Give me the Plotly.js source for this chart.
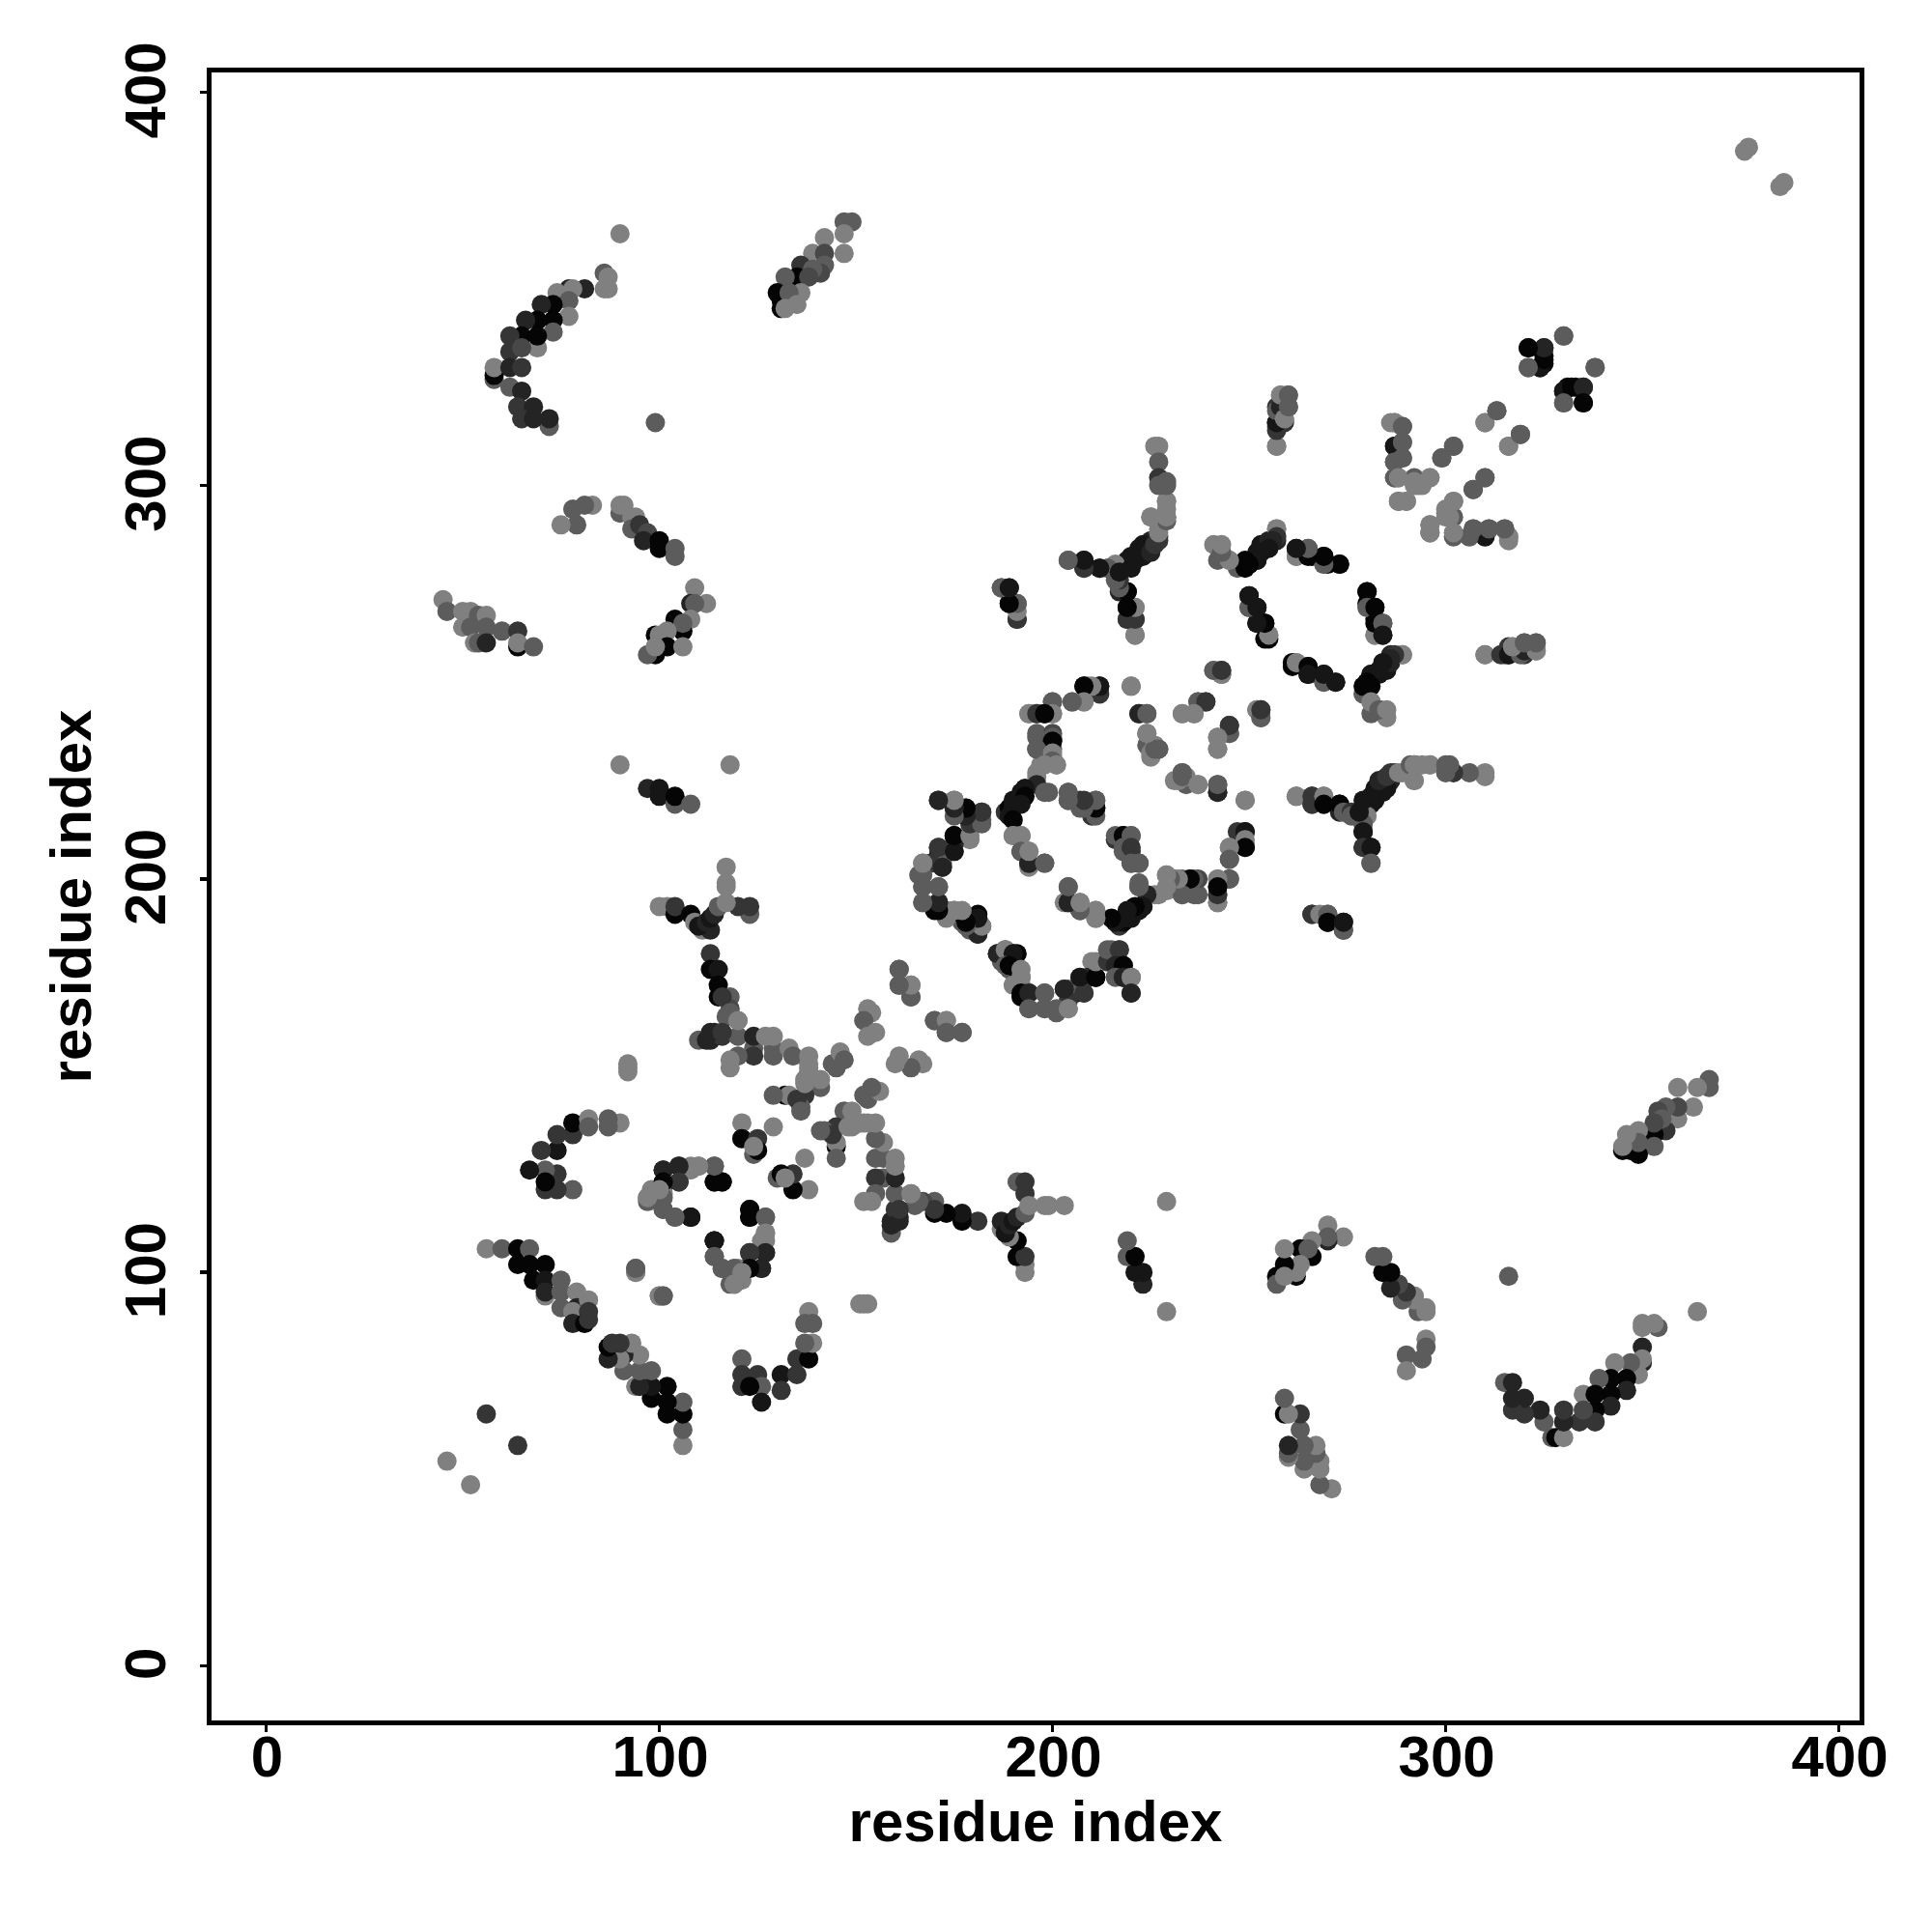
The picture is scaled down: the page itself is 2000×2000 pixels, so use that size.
<!DOCTYPE html>
<html><head><meta charset="utf-8">
<script src="https://cdn.plot.ly/plotly-3.0.1.min.js"></script>
<style>html,body{margin:0;padding:0;background:#fff}</style></head>
<body><div id="chart" style="width:2000px;height:2000px"></div>
<script>
// grey levels
const L=128,M=92,G4=72,G3=53,G2=36,G1=22,K=5;
const tickValues=[0,100,200,300,400];
const axisLabel="residue index";
// contacts above the diagonal: [residue i, residue j, grey]; the map is symmetric
const arcTopLeft=[[86,354,M],[87,353,L],[86,350,L],[87,350,L],[81,350,G2],[77,350,G2],[78,350,L],[74,349,L],[77,347,M],[77,343,L],[73,346,K],[70,346,G2],[69,342,K],[73,342,K],[73,339,M],[66,342,G2],[69,335,L],[65,338,K],[69,338,K],[62,338,G3],[62,334,G3],[65,335,G4],[58,327,M],[58,328,K],[58,330,L],[62,330,G2],[65,330,G3],[62,325,M],[65,324,G2],[64,320,G3],[68,320,G2],[72,315,M],[65,317,G3],[68,317,G2],[72,317,G2],[99,316,M],[90,364,L]];
const bandTop=[[149,367,M],[147,367,M],[147,364,L],[142,363,L],[147,359,L],[139,359,L],[142,359,G4],[142,356,M],[136,356,G3],[141,354,G4],[139,355,M],[135,353,K],[132,353,M],[138,353,G4],[130,349,K],[131,347,K],[131,345,K],[136,349,L],[133,349,M],[132,345,L],[135,346,L]];
const arcMidLeft=[[83,295,L],[81,295,M],[78,294,M],[79,290,M],[75,290,L],[90,293,M],[90,295,L],[91,295,L],[93,292,L],[94,292,L],[93,289,M],[95,290,G3],[97,288,G4],[96,286,G2],[100,286,K],[100,284,K],[104,284,M],[104,282,M]];
const clusterLeft=[[45,271,L],[46,268,M],[50,268,L],[52,268,L],[54,267,M],[56,267,L],[50,264,L],[52,264,M],[56,264,M],[60,263,M],[64,263,G3],[64,259,K],[64,260,L],[68,259,M],[53,260,L],[54,260,M],[56,260,G2]];
const bandMidLeft=[[109,274,L],[112,270,L],[108,270,G2],[109,270,M],[104,266,K],[108,266,L],[106,263,K],[106,265,M],[99,262,K],[102,263,L],[100,262,L],[102,259,K],[106,259,L],[99,257,K],[97,257,M],[99,259,L]];
const groupF=[[90,229,L],[118,229,L],[97,223,G2],[100,223,G1],[100,221,G1],[104,219,M],[104,221,K],[108,219,M]];
const groupG=[[117,203,L],[117,199,L],[117,198,L],[100,193,L],[102,193,L],[104,191,K],[104,193,G3],[108,191,K],[123,191,M],[123,193,G3],[120,193,G3],[109,189,L],[111,187,L],[113,187,G2],[110,188,G1],[112,189,G2],[113,190,G1],[114,191,G2],[115,193,M],[117,194,L],[113,181,G3],[113,177,K],[115,177,G1],[115,173,K],[115,170,K],[118,170,M],[118,167,G4],[117,165,M],[120,164,L]];
const clusterDiagonal=[[110,159,M],[112,159,G2],[113,159,G2],[114,161,G2],[116,160,G3],[120,160,M],[124,157,M],[124,155,G3],[124,160,G2],[120,155,M],[118,154,L],[118,152,L],[129,155,M],[129,157,M],[127,160,L],[129,160,L],[133,157,L],[134,155,M],[138,151,M],[138,153,L],[138,155,L],[137,149,L],[141,147,M],[141,149,L],[137,145,G3],[136,142,M],[132,145,K],[133,145,L],[129,145,M],[144,153,M],[145,152,M],[146,156,L],[147,154,M],[153,167,L],[154,166,L],[152,164,M],[155,161,L],[153,160,L],[161,177,M],[161,173,M],[164,170,M],[164,173,L],[170,164,M],[173,164,L],[173,161,M],[177,161,M],[113,161,G2],[116,161,G3],[116,170,G3],[118,166,M],[120,164,L]];
const clusterLower=[[135,144,G3],[137,148,L],[136,141,M],[138,152,L],[121,138,L],[121,134,K],[125,134,G3],[124,130,M],[125,131,K],[129,137,L],[124,132,L],[92,152,L],[92,151,L],[92,153,L],[90,138,L],[101,126,G3],[105,127,G3],[108,127,L],[110,127,L],[114,127,M],[114,123,K],[116,123,K],[105,123,G3],[101,122,K],[101,120,L],[98,121,L],[97,119,M],[101,116,M],[104,114,M],[108,114,G2],[123,114,K],[123,116,K],[108,114,G2],[94,101,M],[94,100,L],[100,94,L],[101,94,M]];
const loopSmall=[[114,108,G1],[114,104,M],[116,101,M],[127,114,M],[127,110,L],[126,108,L],[127,105,G2],[123,105,G3],[126,101,G2],[123,101,K],[119,101,M],[121,100,L],[118,97,M],[119,97,L]];
const bandLower=[[56,106,L],[60,106,M],[64,106,K],[67,106,M],[64,102,K],[67,102,K],[71,102,K],[68,98,K],[71,98,G1],[75,98,M],[71,94,L],[71,95,G2],[75,95,M],[75,91,M],[79,95,L],[79,91,G2],[78,90,L],[82,93,L],[82,90,G3],[78,87,G2],[81,87,K],[82,88,G3],[56,64,G3],[46,52,L]];
const arcLowerLeft=[[78,121,M],[74,121,G3],[71,121,G3],[74,125,G3],[71,126,M],[71,123,K],[67,126,G1],[74,131,G1],[70,131,G3],[78,135,G3],[74,135,G3],[78,138,K],[82,139,L],[82,137,M],[87,139,M],[87,137,M]];
const vTop=[[258,323,L],[260,323,M],[257,320,G3],[257,316,G1],[259,316,G3],[257,315,M],[259,317,L],[260,320,M],[257,310,L]];
const yBranch=[[226,310,L],[227,310,L],[227,306,M],[227,302,G3],[229,301,M],[229,292,G3],[229,294,L],[229,296,L],[225,292,L],[227,287,G3],[227,289,L],[225,286,G2],[223,285,G1],[222,284,G1],[220,282,G1],[219,281,G1],[218,280,G1],[216,280,L],[214,279,M],[216,277,M],[212,279,K],[208,279,G3],[208,281,G1],[204,281,M],[217,273,G2],[219,273,K],[219,269,K],[221,269,L],[219,266,G3],[221,266,G2],[221,262,M]];
const clusterUpperMid=[[187,274,G3],[189,274,G1],[189,270,K],[191,270,M],[191,266,G2]];
const bandRing=[[241,285,L],[243,283,M],[242,281,M],[245,281,L],[247,279,M],[249,279,K],[250,280,K],[252,281,G1],[252,283,G1],[253,285,G1],[255,286,G2],[257,286,G2],[257,289,L],[262,282,L],[262,284,K],[265,284,M],[266,282,K],[269,280,L],[269,282,K],[273,280,K]];
const ringLeft=[[250,272,G1],[250,269,M],[252,269,K],[252,265,K],[254,265,K],[254,261,K],[255,262,L],[261,255,K],[262,255,L],[265,254,K],[265,252,G1],[269,250,M],[269,252,G1],[272,250,G1]];
const ringRight=[[280,273,K],[280,270,K],[280,269,M],[282,269,K],[282,262,L],[282,265,K],[284,265,M],[284,262,G1],[289,257,L],[287,257,G3],[286,256,G2],[284,255,G1],[283,253,G1],[281,252,G1],[280,250,K],[281,249,K],[281,245,L],[283,243,M],[285,243,L]];
const pairsTopRight=[[241,253,L],[243,252,M],[243,253,G3],[252,243,L],[253,241,M],[253,243,G3],[376,385,L],[377,386,L]];
const clusterSeven=[[220,249,L],[209,249,L],[208,249,K],[212,247,G3],[212,249,G1],[208,245,L],[205,245,M],[200,245,M],[200,242,L],[196,242,G4],[194,242,L],[198,242,K],[196,237,M],[200,235,G1],[200,237,G4],[196,233,M],[200,233,M],[200,231,M],[201,229,L],[197,229,L],[196,227,L]];
const diagonalSeven=[[188,217,G3],[189,218,K],[190,220,G1],[192,222,G1],[193,223,G1],[198,222,M],[204,220,G3],[204,222,M],[207,218,M],[207,220,G3],[210,216,G3],[211,218,K],[211,220,M],[171,220,G3],[175,218,G1],[175,220,M],[178,218,G1],[179,216,G1],[182,215,M],[182,217,M],[179,214,L],[175,211,K],[179,210,L],[175,209,G2],[171,208,M]];
const midDots=[[222,242,G3],[224,242,M],[224,237,L],[225,231,L],[224,234,M],[227,233,M],[226,234,L],[239,245,G3],[237,245,M],[233,242,L],[236,242,L],[245,237,M],[245,239,G3],[242,236,L],[242,233,L],[232,225,L],[233,226,M],[233,227,M],[237,224,L],[242,222,G2],[242,224,M],[249,220,L]];
const yRight=[[262,221,L],[266,219,G3],[266,221,G3],[269,221,L],[269,219,K],[273,219,K],[274,217,M],[276,217,G3],[276,216,M],[279,214,M],[278,217,G1],[279,220,G1],[281,221,G1],[282,223,G1],[283,225,G2],[285,226,G3],[286,227,G3],[288,227,L],[291,229,M],[292,225,L],[292,229,L],[296,229,L],[300,227,M],[300,229,M],[279,212,G1],[279,208,G3],[281,208,G1],[281,204,M]];
const lowerRing=[[266,191,G3],[268,191,L],[270,191,M],[270,189,K],[274,187,M],[274,189,G1]];
const rightChain=[[249,212,G1],[249,210,L],[249,208,K],[245,208,L],[245,205,M],[245,200,M],[242,200,L],[242,194,L],[242,196,G3],[242,198,K],[236,196,M],[236,200,M],[235,200,K],[233,196,M],[232,200,L],[230,200,M],[229,201,L],[229,198,L],[226,196,L],[224,196,G2],[222,198,M],[222,199,M],[223,193,G1],[221,193,K],[219,192,G1],[218,190,G1],[216,189,G1],[215,190,K]];
const innerRing=[[216,211,M],[218,211,K],[220,211,M],[218,208,M],[220,208,G3],[220,204,M],[222,204,M],[204,198,M],[203,194,L],[204,194,G2],[207,192,G3],[207,194,L],[211,190,L],[211,192,L],[190,211,L],[192,211,L],[192,207,M],[194,204,G2],[194,207,L],[198,204,M]];
const ringWest=[[171,206,K],[172,204,M],[169,204,G3],[167,204,L],[166,201,M],[171,198,M],[167,198,M],[167,194,L],[170,192,K],[171,194,G1],[173,192,L],[175,192,L],[177,189,M],[177,191,K],[181,191,K],[181,187,K],[182,188,M],[179,189,K],[181,190,K],[186,181,G3],[187,179,M]];
const ringSouth=[[186,181,G2],[188,182,L],[190,181,G1],[188,178,M],[189,178,K],[192,177,L],[192,175,L],[190,173,L],[192,171,K],[194,171,G2],[198,171,M],[194,167,M],[198,167,M],[201,167,M],[204,167,L],[203,172,M],[203,172,G2],[208,171,G3],[207,175,L],[207,175,G1],[211,175,K],[211,179,L],[214,179,G3],[214,182,M],[217,182,G3],[216,178,G2],[218,178,K],[216,175,M],[218,175,G2],[220,175,L],[220,171,G2]];
const farTopRight=[[330,338,M],[338,330,M],[321,335,G1],[325,335,G2],[325,333,K],[321,330,M],[324,330,K],[325,331,K],[330,324,G1],[332,325,K],[335,325,G2],[330,321,M],[335,321,K]];
const crossRight=[[315,289,M],[316,287,L],[311,289,M],[310,287,K],[307,289,M],[306,287,M],[302,287,L],[302,288,L],[296,288,M],[296,290,L],[302,296,L],[300,293,L],[302,292,M],[307,299,M],[310,302,M],[299,307,M],[302,310,M],[316,310,L],[319,313,M],[310,316,L],[313,319,M],[286,316,L],[287,316,L],[289,315,M],[287,310,G1],[289,311,M],[287,306,M],[289,307,M],[287,302,M],[288,302,L],[292,300,L],[292,301,L],[294,300,L],[296,302,L],[288,296,L],[290,296,L]];
const stubRight=[[310,257,L],[314,257,G3],[316,257,G1],[319,257,M],[320,258,G2],[317,259,L],[323,258,L],[320,260,M],[323,260,M]];
const contactGroups=[arcTopLeft,bandTop,arcMidLeft,clusterLeft,bandMidLeft,groupF,groupG,clusterDiagonal,clusterLower,loopSmall,bandLower,arcLowerLeft,vTop,yBranch,clusterUpperMid,bandRing,ringLeft,ringRight,pairsTopRight,clusterSeven,diagonalSeven,midDots,yRight,lowerRing,rightChain,innerRing,ringWest,ringSouth,farTopRight,crossRight,stubRight];

const rows=contactGroups.flat();
const xs=[],ys=[],colors=[];
rows.forEach(r=>{const c=`rgb(${r[2]},${r[2]},${r[2]})`;xs.push(r[0]);ys.push(r[1]);colors.push(c);xs.push(r[1]);ys.push(r[0]);colors.push(c);});

const fontBase={family:'"Liberation Sans", Arial, sans-serif',size:60,color:'#000',weight:700};
const axisBase={tickmode:'array',tickvals:tickValues,ticktext:tickValues.map(String),ticks:'outside',ticklen:7,tickwidth:3.5,tickcolor:'#000',
  showline:true,linewidth:5,linecolor:'#000',mirror:true,showgrid:false,zeroline:false,tickfont:fontBase,automargin:false};
Plotly.newPlot('chart',[{type:'scatter',mode:'markers',x:xs,y:ys,hoverinfo:'x+y',
  marker:{size:20,color:colors,line:{width:0}}}],{
  width:2000,height:2000,showlegend:false,paper_bgcolor:'#fff',plot_bgcolor:'#fff',
  margin:{l:219,r:74.5,t:75,b:219,pad:0},
  xaxis:Object.assign({},axisBase,{range:[-13.87,405.25],ticklabelstandoff:-26,ticklabelshift:1,title:{text:axisLabel,font:fontBase,standoff:9}}),
  yaxis:Object.assign({},axisBase,{range:[-13.9,405],tickangle:-90,ticklabelstandoff:12,ticklabelshift:7,title:{text:axisLabel,font:fontBase,standoff:5}})
},{displayModeBar:false,staticPlot:true});
</script></body></html>
